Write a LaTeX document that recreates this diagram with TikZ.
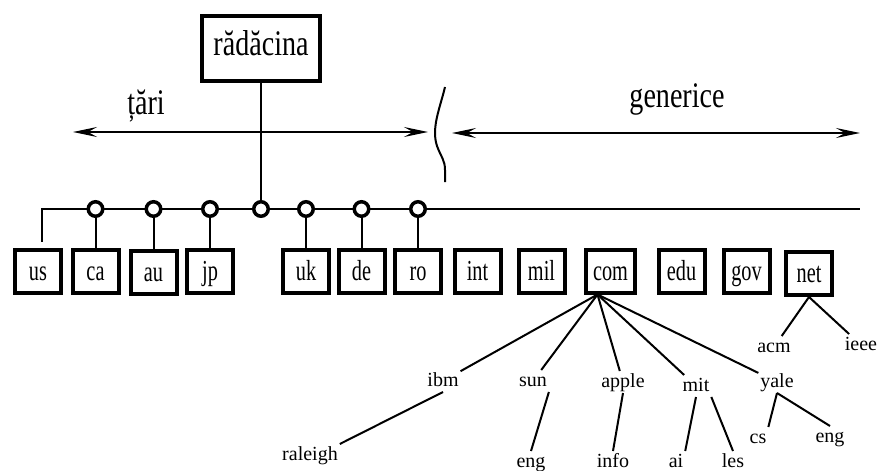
\documentclass[tikz,border=0pt]{standalone}
\usepackage{fontspec}
\setmainfont{Liberation Serif}
\newfontfamily\tallserif[FakeStretch=0.7]{Liberation Serif}
\newfontfamily\headserif[FakeStretch=0.78]{Liberation Serif}
\usetikzlibrary{arrows.meta}
\begin{document}
\begin{tikzpicture}[x=1pt,y=-1pt,>={Stealth[length=24pt,width=10pt,inset=9pt]},line width=2pt,
  dombox/.style={draw,line width=4pt,minimum width=46pt,minimum height=43pt,inner xsep=7pt,
    text height=20pt,text depth=2pt,font=\tallserif\fontsize{29}{30}\selectfont},
  joint/.style={circle,draw,line width=3.5pt,fill=white,minimum size=14.5pt,inner sep=0pt},
  leafname/.style={inner sep=1pt,text height=14pt,text depth=4pt,anchor=base,font=\fontsize{20}{22}\selectfont},
  bigtext/.style={font=\headserif\fontsize{36}{38}\selectfont}]
\useasboundingbox (0,0) rectangle (878,471);
% root and the two groups of domains
\node[draw,line width=4pt,minimum width=118pt,minimum height=65pt,bigtext,text height=25pt,text depth=12pt] (root) at (261,48.5) {rădăcina};
\node[bigtext,anchor=base] (tari) at (146,114) {țări};
\node[bigtext,anchor=base] (generice) at (677,107) {generice};
\coordinate (tl) at (73,132); \coordinate (tr) at (428,132);
\coordinate (gl) at (452,133); \coordinate (gr) at (860,133);
\draw[<->] (tl) -- (tr);
\draw[<->] (gl) -- (gr);
\draw (445,87) .. controls (440,108) and (431,128) .. (437,146) .. controls (441,157) and (445,160) .. (445,170) -- (445,182);
% top level domains
\foreach \n/\x/\y in {us/38/271,ca/95.5/271,au/153.5/272.5,jp/210/271,uk/306/271,de/361.5/271,ro/418/271,
  int/477.5/271,mil/541.5/271,com/610.5/271,edu/681.5/271,gov/746.5/271,net/809/273.5}
  \node[dombox] (\n) at (\x,\y) {\n};
\coordinate (bus) at (0,209);
\coordinate (busend) at (860,209);
\draw ([xshift=4pt,yshift=6pt]us.north) |- (busend);
\node[joint] (jroot) at (root |- bus) {};
\draw (root) -- (jroot);
\foreach \n in {ca,au,jp,uk,de,ro}{
  \node[joint] (j\n) at (\n |- bus) {};
  \draw (j\n) -- (\n.north);
}
% second level
\node[leafname] (ibm) at (443,386) {ibm};
\node[leafname] (raleigh) at (310,460) {raleigh};
\node[leafname] (sun) at (533,386) {sun};
\node[leafname] (suneng) at (531,467) {eng};
\node[leafname] (apple) at (623,387) {apple};
\node[leafname] (info) at (613,467) {info};
\node[leafname] (mit) at (696,391) {mit};
\node[leafname] (ai) at (676,467) {ai};
\node[leafname] (les) at (733,467) {les};
\node[leafname] (yale) at (777,387) {yale};
\node[leafname] (cs) at (758,443) {cs};
\node[leafname] (yaleeng) at (830,442) {eng};
\node[leafname] (acm) at (774,352) {acm};
\node[leafname] (ieee) at (861,350) {ieee};
\coordinate (comfan) at ([xshift=-13pt]com.south);
\foreach \n in {ibm,sun,apple,mit,yale}
  \draw (comfan) -- (\n);
\draw (ibm.south) -- (raleigh.north east);
\draw (sun.south east) -- (suneng.north);
\draw (apple.south) -- (info.north);
\draw (mit.south) -- (ai.north east);
\draw (mit.south east) -- (les.north);
\draw (yale.south) -- (cs.north east);
\draw (yale.south) -- (yaleeng.north);
\draw (net.south) -- (acm);
\draw (net.south) -- (ieee);
\end{tikzpicture}
\end{document}
